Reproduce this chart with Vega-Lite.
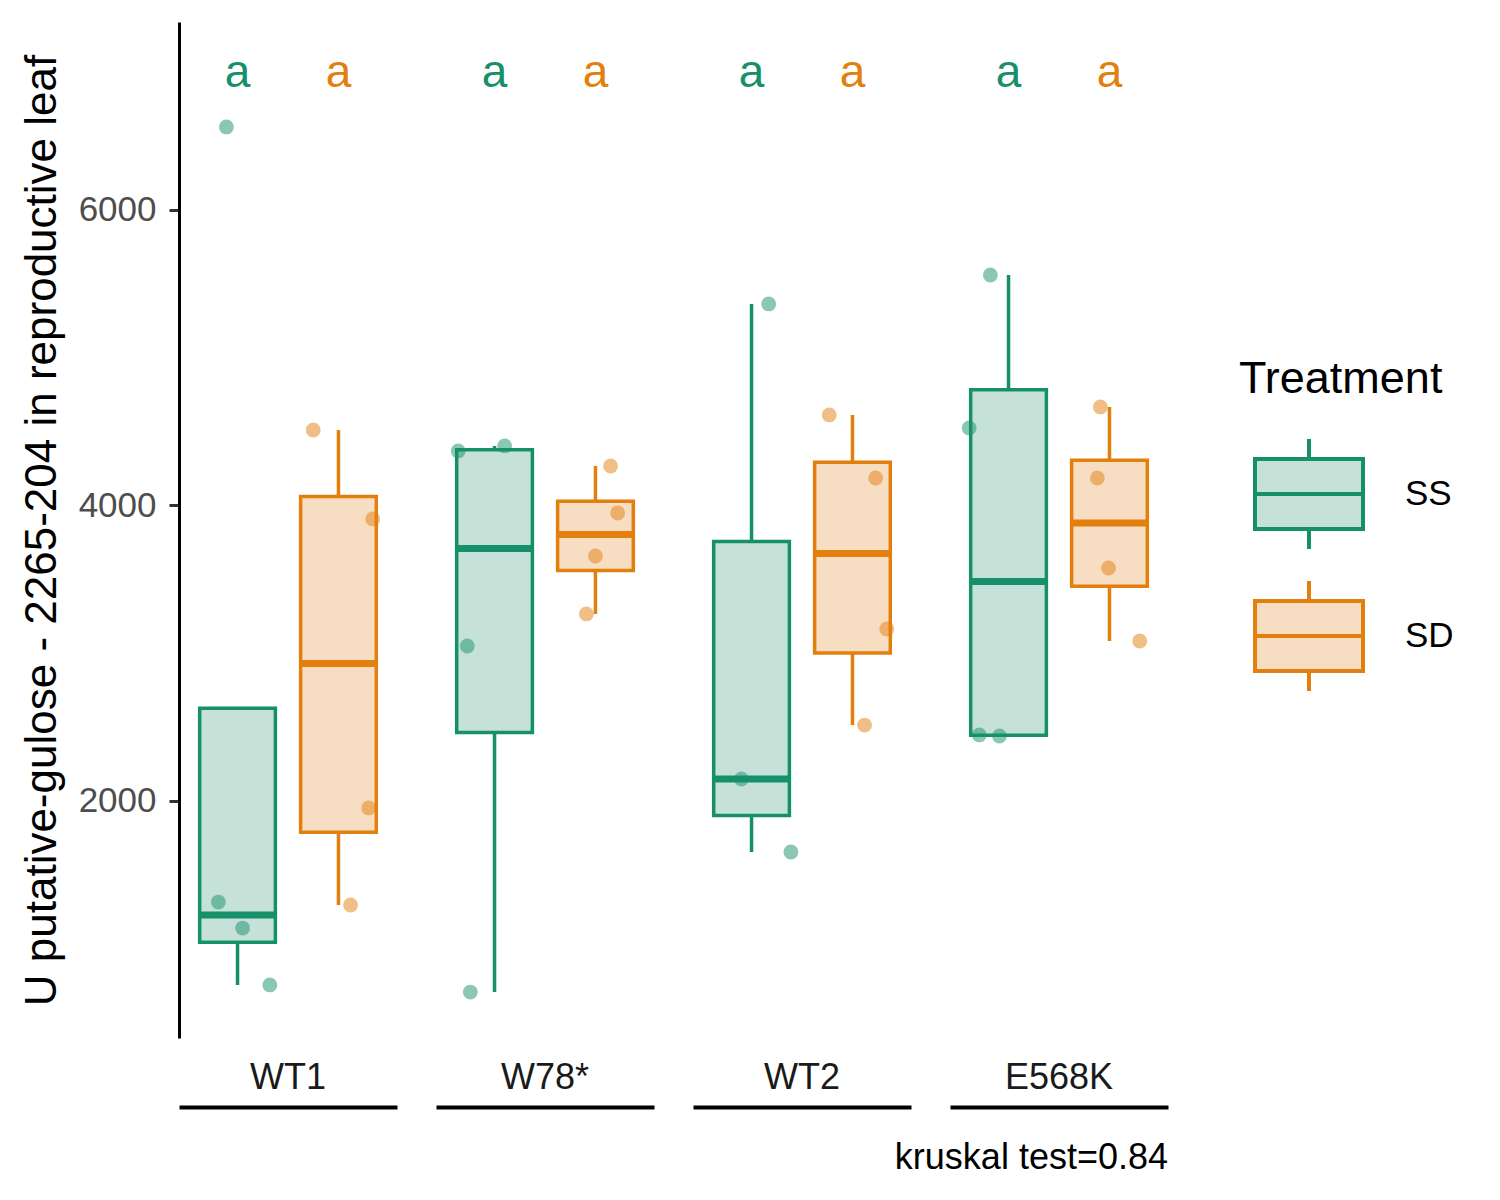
{
  "$schema": "https://vega.github.io/schema/vega-lite/v6.json",
  "padding": {"left": 20, "top": 22, "right": 5, "bottom": 5},
  "data": {
    "values": [
      {"kind": "box", "genotype": "WT1", "treatment": "SS", "lower": 755, "q1": 1044, "median": 1228, "q3": 2627, "upper": 2627, "letter": "a"},
      {"kind": "box", "genotype": "WT1", "treatment": "SD", "lower": 1296, "q1": 1789, "median": 2931, "q3": 4060, "upper": 4511, "letter": "a"},
      {"kind": "box", "genotype": "W78*", "treatment": "SS", "lower": 707, "q1": 2463, "median": 3709, "q3": 4377, "upper": 4403, "letter": "a"},
      {"kind": "box", "genotype": "W78*", "treatment": "SD", "lower": 3266, "q1": 3560, "median": 3803, "q3": 4028, "upper": 4267, "letter": "a"},
      {"kind": "box", "genotype": "WT2", "treatment": "SS", "lower": 1655, "q1": 1902, "median": 2149, "q3": 3756, "upper": 5364, "letter": "a"},
      {"kind": "box", "genotype": "WT2", "treatment": "SD", "lower": 2514, "q1": 3001, "median": 3675, "q3": 4293, "upper": 4613, "letter": "a"},
      {"kind": "box", "genotype": "E568K", "treatment": "SS", "lower": 2440, "q1": 2445, "median": 3486, "q3": 4784, "upper": 5560, "letter": "a"},
      {"kind": "box", "genotype": "E568K", "treatment": "SD", "lower": 3083, "q1": 3454, "median": 3881, "q3": 4306, "upper": 4667, "letter": "a"},
      {"kind": "pt", "genotype": "WT1", "treatment": "SS", "value": 6562, "jitter": -0.11},
      {"kind": "pt", "genotype": "WT1", "treatment": "SS", "value": 1316, "jitter": -0.19},
      {"kind": "pt", "genotype": "WT1", "treatment": "SS", "value": 1140, "jitter": 0.05},
      {"kind": "pt", "genotype": "WT1", "treatment": "SS", "value": 755, "jitter": 0.32},
      {"kind": "pt", "genotype": "WT1", "treatment": "SD", "value": 4511, "jitter": -0.25},
      {"kind": "pt", "genotype": "WT1", "treatment": "SD", "value": 3909, "jitter": 0.34},
      {"kind": "pt", "genotype": "WT1", "treatment": "SD", "value": 1953, "jitter": 0.3},
      {"kind": "pt", "genotype": "WT1", "treatment": "SD", "value": 1296, "jitter": 0.12},
      {"kind": "pt", "genotype": "W78*", "treatment": "SS", "value": 4369, "jitter": -0.36},
      {"kind": "pt", "genotype": "W78*", "treatment": "SS", "value": 4403, "jitter": 0.1},
      {"kind": "pt", "genotype": "W78*", "treatment": "SS", "value": 3049, "jitter": -0.27},
      {"kind": "pt", "genotype": "W78*", "treatment": "SS", "value": 707, "jitter": -0.24},
      {"kind": "pt", "genotype": "W78*", "treatment": "SD", "value": 4267, "jitter": 0.15},
      {"kind": "pt", "genotype": "W78*", "treatment": "SD", "value": 3949, "jitter": 0.22},
      {"kind": "pt", "genotype": "W78*", "treatment": "SD", "value": 3658, "jitter": 0.0},
      {"kind": "pt", "genotype": "W78*", "treatment": "SD", "value": 3266, "jitter": -0.09},
      {"kind": "pt", "genotype": "WT2", "treatment": "SS", "value": 5364, "jitter": 0.17},
      {"kind": "pt", "genotype": "WT2", "treatment": "SS", "value": 2149, "jitter": -0.1},
      {"kind": "pt", "genotype": "WT2", "treatment": "SS", "value": 1655, "jitter": 0.39},
      {"kind": "pt", "genotype": "WT2", "treatment": "SD", "value": 4613, "jitter": -0.23},
      {"kind": "pt", "genotype": "WT2", "treatment": "SD", "value": 4186, "jitter": 0.23},
      {"kind": "pt", "genotype": "WT2", "treatment": "SD", "value": 3164, "jitter": 0.34},
      {"kind": "pt", "genotype": "WT2", "treatment": "SD", "value": 2514, "jitter": 0.12},
      {"kind": "pt", "genotype": "E568K", "treatment": "SS", "value": 5560, "jitter": -0.18},
      {"kind": "pt", "genotype": "E568K", "treatment": "SS", "value": 4525, "jitter": -0.39},
      {"kind": "pt", "genotype": "E568K", "treatment": "SS", "value": 2447, "jitter": -0.29},
      {"kind": "pt", "genotype": "E568K", "treatment": "SS", "value": 2440, "jitter": -0.09},
      {"kind": "pt", "genotype": "E568K", "treatment": "SD", "value": 4667, "jitter": -0.09},
      {"kind": "pt", "genotype": "E568K", "treatment": "SD", "value": 4186, "jitter": -0.12},
      {"kind": "pt", "genotype": "E568K", "treatment": "SD", "value": 3577, "jitter": -0.01},
      {"kind": "pt", "genotype": "E568K", "treatment": "SD", "value": 3083, "jitter": 0.3}
    ]
  },
  "title": {
    "text": "kruskal test=0.84",
    "orient": "bottom",
    "anchor": "end",
    "frame": "group",
    "dx": 989,
    "fontSize": 36,
    "fontWeight": "normal",
    "color": "black",
    "offset": 34
  },
  "facet": {
    "column": {
      "field": "genotype",
      "type": "nominal",
      "sort": ["WT1", "W78*", "WT2", "E568K"],
      "header": {"labels": false, "title": null}
    }
  },
  "spacing": 39,
  "resolve": {"scale": {"x": "independent"}},
  "spec": {
    "width": 218,
    "height": 1016,
    "encoding": {
      "x": {
        "field": "genotype",
        "type": "nominal",
        "scale": {"paddingInner": 0, "paddingOuter": 0.04},
        "axis": {
          "title": null,
          "domain": true,
          "domainColor": "black",
          "domainWidth": 4,
          "ticks": false,
          "labelAngle": 0,
          "labelFontSize": 36,
          "labelColor": "#1a1a1a",
          "labelBaseline": "alphabetic",
          "labelPadding": -19,
          "offset": 69
        }
      },
      "y": {
        "type": "quantitative",
        "scale": {"domain": [396, 7272], "nice": false, "zero": false},
        "title": "U putative-gulose - 2265-204 in reproductive leaf",
        "axis": {"values": [2000, 4000, 6000], "format": "d"}
      }
    },
    "layer": [
      {
        "transform": [{"filter": "datum.kind == 'box'"}],
        "mark": {"type": "rule", "strokeWidth": 3.5},
        "encoding": {
          "xOffset": {"field": "treatment", "type": "nominal", "sort": ["SS", "SD"], "scale": {"type": "band", "paddingInner": 0.25, "paddingOuter": 0.125}},
          "y": {"field": "lower"},
          "y2": {"field": "upper"},
          "color": {"field": "treatment", "type": "nominal", "scale": {"domain": ["SD", "SS"], "range": ["#E27F0D", "#16906A"]}, "legend": null}
        }
      },
      {
        "transform": [{"filter": "datum.kind == 'box'"}],
        "mark": {"type": "bar", "strokeWidth": 3.5},
        "encoding": {
          "xOffset": {"field": "treatment", "type": "nominal", "sort": ["SS", "SD"], "scale": {"type": "band", "paddingInner": 0.25, "paddingOuter": 0.125}},
          "y": {"field": "q1"},
          "y2": {"field": "q3"},
          "fill": {
            "field": "treatment",
            "type": "nominal",
            "scale": {"domain": ["SS", "SD"], "range": ["#C6E2D8", "#F7DDC2"]},
            "legend": {
              "title": "Treatment",
              "orient": "none",
              "direction": "vertical",
              "legendX": 1060,
              "legendY": 335,
              "titleLimit": 500,
              "symbolType": "M-1,-0.65H1V0.65H-1Z M-1,0H1 M0,-0.65V-1.02 M0,0.65V1.02",
              "symbolSize": 11664,
              "symbolStrokeWidth": 4,
              "symbolOffset": 14,
              "rowPadding": 14,
              "labelOffset": 40,
              "titlePadding": 36
            }
          },
          "stroke": {
            "field": "treatment",
            "type": "nominal",
            "scale": {"domain": ["SS", "SD"], "range": ["#16906A", "#E27F0D"]},
            "legend": {
              "title": "Treatment",
              "orient": "none",
              "direction": "vertical",
              "legendX": 1060,
              "legendY": 335,
              "titleLimit": 500,
              "symbolType": "M-1,-0.65H1V0.65H-1Z M-1,0H1 M0,-0.65V-1.02 M0,0.65V1.02",
              "symbolSize": 11664,
              "symbolStrokeWidth": 4,
              "symbolOffset": 14,
              "rowPadding": 14,
              "labelOffset": 40,
              "titlePadding": 36
            }
          }
        }
      },
      {
        "transform": [{"filter": "datum.kind == 'box'"}],
        "mark": {"type": "bar", "filled": false, "strokeWidth": 7},
        "encoding": {
          "xOffset": {"field": "treatment", "type": "nominal", "sort": ["SS", "SD"], "scale": {"type": "band", "paddingInner": 0.25, "paddingOuter": 0.125}},
          "y": {"field": "median"},
          "y2": {"field": "median"},
          "color": {"field": "treatment", "type": "nominal", "legend": null}
        }
      },
      {
        "transform": [{"filter": "datum.kind == 'box'"}],
        "mark": {"type": "text", "fontSize": 46, "baseline": "alphabetic", "align": "center"},
        "encoding": {
          "xOffset": {"field": "treatment", "type": "nominal", "sort": ["SS", "SD"], "scale": {"type": "band", "paddingInner": 0.25, "paddingOuter": 0.125}},
          "y": {"datum": 6830, "type": "quantitative"},
          "text": {"field": "letter"},
          "color": {"field": "treatment", "type": "nominal", "legend": null}
        }
      },
      {
        "transform": [
          {"filter": "datum.kind == 'pt'"},
          {"calculate": "(datum.treatment == 'SS' ? 0.5 : 1.5) + datum.jitter", "as": "pos"}
        ],
        "mark": {"type": "point", "filled": true, "size": 220, "opacity": 0.5, "strokeWidth": 0},
        "encoding": {
          "xOffset": {"field": "pos", "type": "quantitative", "scale": {"domain": [0, 2], "nice": false, "zero": false}},
          "y": {"field": "value"},
          "color": {"field": "treatment", "type": "nominal", "legend": null}
        }
      }
    ],
    "resolve": {"scale": {"xOffset": "independent"}}
  },
  "config": {
    "font": "Liberation Sans",
    "view": {"stroke": null},
    "axis": {"grid": false},
    "axisY": {
      "domainColor": "black",
      "domainWidth": 3,
      "tickColor": "#333333",
      "tickWidth": 3,
      "tickSize": 10,
      "labelFontSize": 35,
      "labelColor": "#4D4D4D",
      "labelPadding": 13,
      "titleFontSize": 44,
      "titleFontWeight": "normal",
      "titleColor": "black",
      "titlePadding": 14
    },
    "legend": {
      "titleFontSize": 45,
      "titleFontWeight": "normal",
      "titleColor": "black",
      "labelFontSize": 35,
      "labelColor": "black"
    }
  }
}
